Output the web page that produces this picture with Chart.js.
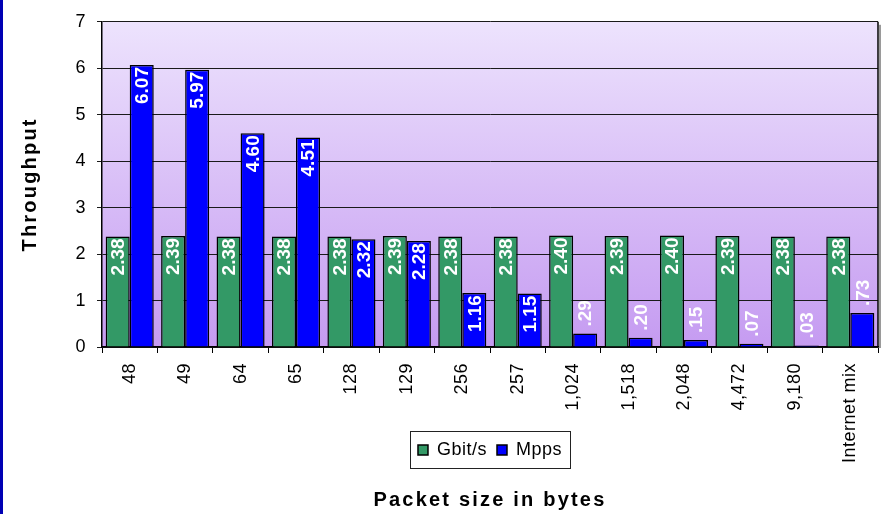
<!DOCTYPE html>
<html>
<head>
<meta charset="utf-8">
<script src="https://cdn.jsdelivr.net/npm/chart.js@4.4.1/dist/chart.umd.min.js"></script>
<style>
  html, body { margin: 0; padding: 0; background: #fff; overflow: hidden; }
</style>
</head>
<body>
<canvas id="chart" width="883" height="514"></canvas>
<script>
const sizeLabels = ['48', '49', '64', '65', '128', '129', '256', '257', '1,024', '1,518', '2,048', '4,472', '9,180', 'Internet mix'];
const gbitValues = [2.38, 2.39, 2.38, 2.38, 2.38, 2.39, 2.38, 2.38, 2.40, 2.39, 2.40, 2.39, 2.38, 2.38];
const mppsValues = [6.07, 5.97, 4.60, 4.51, 2.32, 2.28, 1.16, 1.15, 0.29, 0.20, 0.15, 0.07, 0.03, 0.73];
const yTicks = [0, 1, 2, 3, 4, 5, 6, 7];

const FONT = "'Liberation Sans', Arial, sans-serif";

// background, bar value labels, frame and legend box
const paint = {
    id: 'paint',
    beforeUpdate(chart) {
        chart.ctx.letterSpacing = '0.5px';
    },
    afterLayout(chart) {
        // let the rotated x labels run past the (shortened) axis box
        chart.scales.x.bottom = chart.height;
    },
    beforeDraw(chart) {
        const { ctx, chartArea: a } = chart;
        ctx.letterSpacing = '0.5px';
        ctx.save();
        ctx.fillStyle = '#0000b4';
        ctx.fillRect(0, 0, 3, chart.height);
        const g = ctx.createLinearGradient(0, a.top, 0, a.bottom);
        g.addColorStop(0, '#ede3fd');
        g.addColorStop(1, '#c59bf1');
        ctx.fillStyle = g;
        ctx.fillRect(a.left, a.top, a.width, a.height);
        ctx.restore();
    },
    afterDatasetsDraw(chart) {
        const ctx = chart.ctx;
        ctx.save();
        ctx.letterSpacing = '0px';
        ctx.font = 'bold 19px ' + FONT;
        ctx.fillStyle = '#fff';
        ctx.textBaseline = 'middle';
        chart.data.datasets.forEach((ds, di) => {
            chart.getDatasetMeta(di).data.forEach((bar, i) => {
                const txt = ds.data[i].toFixed(2).replace(/^0/, '');
                const inside = bar.base - bar.y >= 45;
                ctx.save();
                ctx.translate(bar.x, inside ? bar.y + 2 : bar.y - 7);
                ctx.rotate(-Math.PI / 2);
                ctx.textAlign = inside ? 'right' : 'left';
                ctx.fillText(txt, 0, 1);
                ctx.restore();
            });
        });
        ctx.restore();
        ctx.letterSpacing = '2.2px';
    },
    afterDraw(chart) {
        const { ctx, chartArea: a } = chart;
        ctx.save();
        ctx.fillStyle = '#9a9a9a';
        ctx.fillRect(a.right + 1, a.top + 3, 2, a.height - 2);
        ctx.strokeStyle = '#000';
        ctx.lineWidth = 1.5;
        ctx.beginPath();
        ctx.moveTo(a.right, a.top);
        ctx.lineTo(a.right, a.bottom);
        ctx.stroke();

        const lg = chart.legend;
        const hb = lg.legendHitBoxes;
        const l = Math.min(...hb.map(h => h.left)) - 8;
        const r = Math.max(...hb.map(h => h.left + h.width)) + 8;
        ctx.strokeStyle = '#222';
        ctx.lineWidth = 1;
        ctx.strokeRect(Math.round(l) + 0.5, Math.round(lg.top) + 0.5, Math.round(r - l), Math.round(lg.height) - 1);
        ctx.restore();
    }
};

new Chart(document.getElementById('chart'), {
    type: 'bar',
    data: {
        labels: sizeLabels,
        datasets: [
            {
                label: 'Gbit/s',
                data: gbitValues,
                xAxisID: 'x',
                yAxisID: 'y',
                backgroundColor: '#339966',
                borderColor: '#000',
                borderWidth: 1.5,
                categoryPercentage: 0.867,
                barPercentage: 1
            },
            {
                label: 'Mpps',
                data: mppsValues,
                xAxisID: 'x',
                yAxisID: 'y',
                backgroundColor: '#0000ff',
                borderColor: '#000',
                borderWidth: 1.5,
                categoryPercentage: 0.867,
                barPercentage: 1
            }
        ]
    },
    options: {
        responsive: false,
        animation: false,
        layout: { padding: { top: 19, right: 5, bottom: 0, left: 0 } },
        plugins: {
            tooltip: { enabled: false },
            legend: {
                position: 'bottom',
                fullSize: false,
                labels: {
                    boxWidth: 10,
                    boxHeight: 10,
                    padding: 10,
                    color: '#000',
                    font: { family: FONT, size: 18 }
                }
            }
        },
        scales: {
            x: {
                grid: { display: true, drawOnChartArea: false, drawTicks: true, tickLength: 6, color: '#000' },
                border: { display: true, color: '#000', width: 1.5 },
                ticks: {
                    minRotation: 90,
                    maxRotation: 90,
                    autoSkip: false,
                    padding: 10,
                    color: '#000',
                    font: { family: FONT, size: 18 }
                },
                afterFit(s) { s.height = 84; }
            },
            y: {
                min: yTicks[0],
                max: yTicks[yTicks.length - 1],
                ticks: { stepSize: 1, padding: 11, color: '#000', font: { family: FONT, size: 18 } },
                grid: { color: '#1a1a1a', lineWidth: 1, tickLength: 5 },
                border: { color: '#000', width: 1.5 },
                afterFit(s) { s.width = 52; }
            },
            yt: {
                type: 'linear',
                position: 'left',
                weight: 1,
                grid: { display: false, z: 1 },
                border: { display: false, z: 1 },
                ticks: { display: false, z: 1 },
                title: {
                    display: true,
                    text: 'Throughput',
                    color: '#000',
                    font: { family: FONT, size: 20, weight: 'bold' },
                    padding: { top: 18, bottom: 0 }
                },
                afterFit(s) { s.width = 50; }
            },
            xt: {
                type: 'linear',
                position: 'bottom',
                weight: 2000,
                grid: { display: false, z: 1 },
                border: { display: false, z: 1 },
                ticks: { display: false, z: 1 },
                title: {
                    display: true,
                    text: 'Packet size in bytes',
                    color: '#000',
                    font: { family: FONT, size: 20, weight: 'bold' },
                    padding: { top: 0, bottom: 2 }
                },
                afterFit(s) { s.height = 45; }
            }
        }
    },
    plugins: [paint]
});
</script>
</body>
</html>
